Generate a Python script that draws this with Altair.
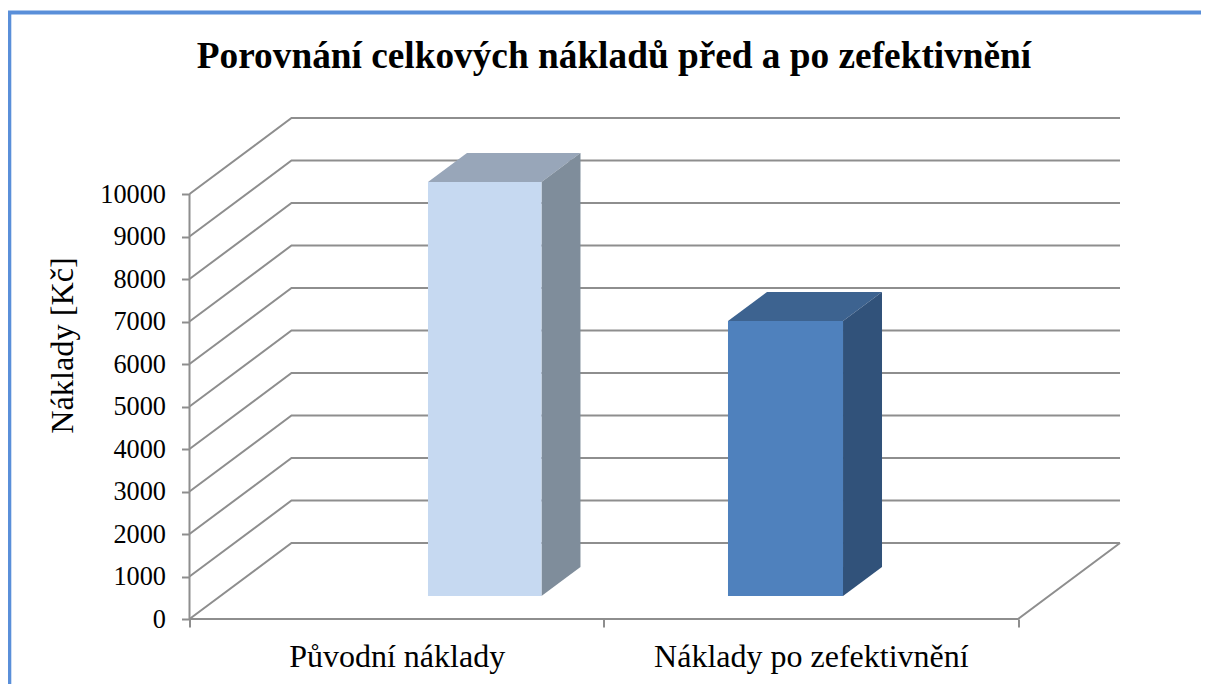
import altair as alt
import pandas as pd

TITLE = "Porovnání celkových nákladů před a po zefektivnění"
Y_TITLE = "Náklady [Kč]"
categories = ["Původní náklady", "Náklady po zefektivnění"]
values = [9740, 6470]
tick_values = [0, 1000, 2000, 3000, 4000, 5000, 6000, 7000, 8000, 9000, 10000]

# Oblique 3D geometry, in axis units (x: one unit per category; y: Kč)
wall_dx, wall_dy = 0.2462, 1788
bar_dx, bar_dy = 0.0941, 682
bar_base = 541
bar_left = [0.5757, 1.2999]
bar_right = [0.8497, 1.5776]
x_max, y_max = 2.2474, 11812

front_colors = ["#C6D9F1", "#4F81BD"]
top_colors = ["#98A6B9", "#3D6390"]
side_colors = ["#7F8D9B", "#31527A"]
GRID = "#8E8E8E"
FONT = "Liberation Serif"

grid_rows = []
for v in tick_values:
    for i, (x, y) in enumerate([(0, v), (wall_dx, v + wall_dy), (2 + wall_dx, v + wall_dy)]):
        grid_rows.append(dict(line=f"g{v}", i=i, x=x, y=y))
for i, (x, y) in enumerate([(0, 0), (2, 0), (2 + wall_dx, wall_dy)]):
    grid_rows.append(dict(line="floor", i=i, x=x, y=y))
for i, (x, y) in enumerate([(0, 0), (0, 10000)]):
    grid_rows.append(dict(line="yaxis", i=i, x=x, y=y))
grid_df = pd.DataFrame(grid_rows)

front_rows, face_rows = [], []
face_domain, face_range = [], []
for b, val in enumerate(values):
    l, r = bar_left[b], bar_right[b]
    top = bar_base + val
    front_rows.append(dict(l=l, r=r, y0=bar_base, y1=top, face=f"front{b}"))
    for name, col, pts in [
        (f"top{b}", top_colors[b], [(l, top, top), (l + bar_dx, top, top + bar_dy),
                                    (r, top, top + bar_dy), (r + bar_dx, top + bar_dy, top + bar_dy)]),
        (f"side{b}", side_colors[b], [(r, bar_base, top), (r + bar_dx, bar_base + bar_dy, top + bar_dy)]),
    ]:
        face_domain.append(name)
        face_range.append(col)
        for x, y0, y1 in pts:
            face_rows.append(dict(face=name, x=x, y0=y0, y1=y1))
    face_domain.append(f"front{b}")
    face_range.append(front_colors[b])
front_df = pd.DataFrame(front_rows)
face_df = pd.DataFrame(face_rows)

x_scale = alt.Scale(domain=[0, x_max], nice=False, zero=False)
y_scale = alt.Scale(domain=[0, y_max], nice=False, zero=False)
color = alt.Color("face:N", scale=alt.Scale(domain=face_domain, range=face_range), legend=None)

label_expr = (
    f"datum.value == 0.5 ? '{categories[0]}' : datum.value == 1.5 ? '{categories[1]}' : ''"
)
x_axis = alt.Axis(
    values=[0, 0.5, 1, 1.5, 2], labelExpr=label_expr, title=None, domain=False, grid=False,
    tickSize=8, tickWidth=2, tickColor=GRID,
    tickOpacity={"condition": {"test": "datum.value % 1 == 0", "value": 1}, "value": 0},
    labelFont=FONT, labelFontSize=32, labelColor="black", labelPadding=14, labelOverlap=False,
    labelFlush=False, labelBaseline="top", labelLimit=600,
)
y_axis = alt.Axis(
    values=tick_values, title=Y_TITLE, domain=False, grid=False,
    tickSize=8, tickWidth=2, tickColor=GRID,
    labelFont=FONT, labelFontSize=26.3, labelColor="black", labelPadding=16, labelOverlap=False,
    labelFlush=False, format="d",
    titleFont=FONT, titleFontSize=32.3, titleFontWeight="normal", titleColor="black",
    titleX=-110, titleY=228, titleLimit=400,
)

grid = alt.Chart(grid_df).mark_line(color=GRID, strokeWidth=2, interpolate="linear").encode(
    x=alt.X("x:Q", scale=x_scale, axis=x_axis, title=None),
    y=alt.Y("y:Q", scale=y_scale, axis=y_axis, title=Y_TITLE),
    detail="line:N",
    order="i:Q",
)
faces = alt.Chart(face_df).mark_area(interpolate="linear", opacity=1).encode(
    x=alt.X("x:Q", scale=x_scale, axis=x_axis, title=None),
    y=alt.Y("y0:Q", scale=y_scale, axis=y_axis, title=Y_TITLE, stack=None),
    y2="y1:Q",
    color=color,
)
fronts = alt.Chart(front_df).mark_rect().encode(
    x=alt.X("l:Q", scale=x_scale, axis=x_axis, title=None),
    x2="r:Q",
    y=alt.Y("y0:Q", scale=y_scale, axis=y_axis, title=Y_TITLE),
    y2="y1:Q",
    color=color,
)
frame_top = alt.Chart(pd.DataFrame({"a": [0]})).mark_rule(color="#5A8FD9", strokeWidth=4).encode(
    x=alt.value(-181.5), x2=alt.value(1011.5), y=alt.value(-104.5)
)
frame_left = alt.Chart(pd.DataFrame({"a": [0]})).mark_rule(color="#5A8FD9", strokeWidth=4).encode(
    y=alt.value(-106), y2=alt.value(567), x=alt.value(-180.2)
)

chart = alt.layer(grid, faces, fronts, frame_top, frame_left).properties(
    width=931,
    height=502,
    padding={"left": 181.5, "top": 109, "right": 80.5, "bottom": 65},
    autosize=alt.AutoSizeParams(type="none"),
    title=alt.Title(
        TITLE, font=FONT, fontSize=37.3, fontWeight="bold", color="black",
        anchor="middle", dx=-41, offset=-67, limit=1100,
    ),
    background="white",
).configure_view(stroke=None)

chart.save("out.html", embed_options={"renderer": "svg", "actions": False})
